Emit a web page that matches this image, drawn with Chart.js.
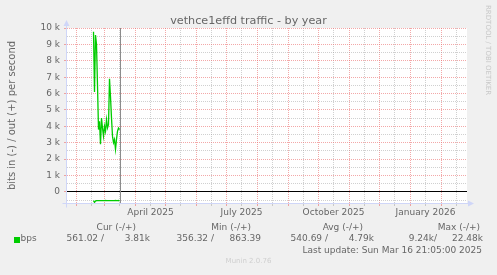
<!DOCTYPE html>
<html>
<head>
<meta charset="utf-8">
<script src="https://cdn.jsdelivr.net/npm/chart.js@4/dist/chart.umd.min.js"></script>
<style>
  html, body { margin: 0; padding: 0; background: #f0f0f0; }
  #wrap { position: relative; width: 497px; height: 275px; font-family: 'DejaVu Sans', sans-serif; color: #666; }
  #wrap canvas { position: absolute; left: 0; top: 0; }
  .t { position: absolute; white-space: pre; font-size: 9px; line-height: 11px; }
  .hd { top: 221.5px; }
  .val { top: 233px; }
</style>
</head>
<body>
<div id="wrap">
  <canvas id="chart" width="497" height="275"></canvas>
  <div class="t" style="left:0;width:497px;text-align:center;top:14px;font-size:11.2px;line-height:13px">vethce1effd traffic - by year</div>
  <div class="t" style="left:483px;top:5px;font-size:7px;line-height:9px;color:#c8c8c8;writing-mode:vertical-rl">RRDTOOL / TOBI OETIKER</div>

  <div class="t hd" style="right:361px">Cur (-/+)</div>
  <div class="t hd" style="right:246px">Min (-/+)</div>
  <div class="t hd" style="right:134px">Avg (-/+)</div>
  <div class="t hd" style="right:17px">Max (-/+)</div>

  <div style="position:absolute;left:14px;top:237px;width:5.5px;height:5.5px;background:#00cc00"></div>
  <div class="t val" style="left:20.5px">bps</div>
  <div class="t val" style="right:393px">561.02 /</div>
  <div class="t val" style="right:347px">3.81k</div>
  <div class="t val" style="right:283px">356.32 /</div>
  <div class="t val" style="right:236px">863.39</div>
  <div class="t val" style="right:169px">540.69 /</div>
  <div class="t val" style="right:123px">4.79k</div>
  <div class="t val" style="right:60px">9.24k/</div>
  <div class="t val" style="right:14px">22.48k</div>

  <div class="t" style="right:15px;top:244.7px">Last update: Sun Mar 16 21:05:00 2025</div>
  <div class="t" style="left:0;width:497px;text-align:center;top:257px;font-size:7px;line-height:9px;color:#cfcfcf">Munin 2.0.76</div>
</div>
<script>
// x values are days counted from 2025-01-01
const xMin = 21.5;
const xMax = 421.5;
const yMin = -680;
const yMax = 10000;

const days = [48, 49, 50, 51, 52, 53, 54, 55, 56, 57, 58, 59, 60, 61, 62, 63, 64, 65, 66, 67, 68, 69, 70, 71, 72, 73, 74];
// out traffic (+), bits per second
const outBps = [9770, 6100, 9570, 9000, 6500, 3800, 4300, 2900, 4500, 3900, 3400, 4000, 3700, 4400, 3900, 4100, 6900, 5800, 4500, 3400, 3000, 3200, 2600, 3200, 3700, 3900, 3800];
// in traffic (-), drawn below zero
const inBps = [-540, -640, -560, -540, -530, -530, -540, -530, -530, -540, -530, -530, -520, -530, -540, -530, -530, -540, -530, -530, -540, -530, -520, -530, -540, -530, -560];

const lastUpdateDay = 74.88;

// first day of each month, Feb 2025 .. Feb 2026 (major grid)
const monthStarts = [31, 59, 90, 120, 151, 181, 212, 243, 273, 304, 334, 365, 396];
// mid-month lines (minor grid)
const midMonths = [46, 74, 105, 135, 166, 196, 227, 258, 288, 319, 349, 380, 411];
const xTickDays = [105, 196, 288, 380];
const xTickLabels = ['April 2025', 'July 2025', 'October 2025', 'January 2026'];

// y grid: labelled every 1 k, minor line every 500
const yMajor = [0, 1000, 2000, 3000, 4000, 5000, 6000, 7000, 8000, 9000, 10000];
const yTickLabels = ['0', '1 k', '2 k', '3 k', '4 k', '5 k', '6 k', '7 k', '8 k', '9 k', '10 k'];
const yMinor = [-500, 500, 1500, 2500, 3500, 4500, 5500, 6500, 7500, 8500, 9500];

const RED = 'rgba(235, 110, 110, 0.6)';
const GREY = 'rgba(150, 150, 150, 0.45)';
const AXIS = '#cfd6f8';
const GREEN = '#00cc00';

Chart.defaults.font.family = "'DejaVu Sans', sans-serif";
Chart.defaults.font.size = 9;
Chart.defaults.color = '#666666';

const muninFrame = {
    id: 'muninFrame',
    beforeDraw(chart) {
        const { ctx, chartArea: a } = chart;
        ctx.save();
        ctx.fillStyle = '#f0f0f0';
        ctx.fillRect(0, 0, chart.width, chart.height);
        ctx.fillStyle = '#ffffff';
        ctx.fillRect(a.left, a.top, a.right - a.left, a.bottom - a.top);
        ctx.restore();
    },
    afterDraw(chart) {
        const { ctx, chartArea: a, scales } = chart;
        const nowX = Math.round(scales.x.getPixelForValue(lastUpdateDay)) + 0.5;
        ctx.save();
        // vertical line at last update
        ctx.strokeStyle = '#8c8c8c';
        ctx.lineWidth = 1;
        ctx.beginPath();
        ctx.moveTo(nowX, a.top);
        ctx.lineTo(nowX, a.bottom);
        ctx.stroke();

        // axes with arrows
        const ax = Math.round(a.left) - 0.5;
        const ay = Math.round(a.bottom) + 0.5;
        ctx.strokeStyle = AXIS;
        ctx.fillStyle = AXIS;
        ctx.beginPath();
        ctx.moveTo(ax, ay + 4);
        ctx.lineTo(ax, a.top - 2);
        ctx.moveTo(ax - 4, ay);
        ctx.lineTo(a.right + 2, ay);
        ctx.stroke();
        ctx.beginPath();
        ctx.moveTo(ax, a.top - 8);
        ctx.lineTo(ax - 3, a.top - 2);
        ctx.lineTo(ax + 3, a.top - 2);
        ctx.closePath();
        ctx.fill();
        ctx.beginPath();
        ctx.moveTo(a.right + 7, ay);
        ctx.lineTo(a.right + 1, ay - 3);
        ctx.lineTo(a.right + 1, ay + 3);
        ctx.closePath();
        ctx.fill();
        ctx.restore();
    }
};

const lineStyle = { borderColor: GREEN, borderWidth: 1.3, pointRadius: 0, tension: 0, fill: false };

new Chart(document.getElementById('chart'), {
    type: 'line',
    data: {
        datasets: [
            { label: 'out', data: days.map((d, i) => ({ x: d, y: outBps[i] })), ...lineStyle },
            { label: 'in', data: days.map((d, i) => ({ x: d, y: inBps[i] })), ...lineStyle }
        ]
    },
    options: {
        responsive: false,
        animation: false,
        events: [],
        layout: { padding: { left: 0, top: 28, right: 30, bottom: 0 } },
        plugins: { legend: { display: false }, tooltip: { enabled: false } },
        scales: {
            x: {
                type: 'linear',
                min: xMin,
                max: xMax,
                afterBuildTicks: (scale) => {
                    scale.ticks = [...monthStarts, ...midMonths]
                        .filter(d => d > xMin && d < xMax)
                        .sort((a, b) => a - b)
                        .map(d => ({ value: d }));
                },
                afterFit: (scale) => { scale.height = 72; },
                ticks: {
                    autoSkip: false,
                    maxRotation: 0,
                    padding: 1,
                    color: '#666666',
                    callback: (v) => {
                        const i = xTickDays.indexOf(v);
                        return i >= 0 ? xTickLabels[i] : '';
                    }
                },
                grid: {
                    lineWidth: 1,
                    tickLength: 3,
                    color: (c) => monthStarts.includes(c.tick.value) ? RED : GREY,
                    tickColor: (c) => monthStarts.includes(c.tick.value) ? RED : GREY
                },
                border: { display: false, dash: [1, 1] }
            },
            y: {
                min: yMin,
                max: yMax,
                afterBuildTicks: (scale) => {
                    scale.ticks = [...yMinor, ...yMajor]
                        .sort((a, b) => a - b)
                        .map(v => ({ value: v }));
                },
                afterFit: (scale) => { scale.width = 67; },
                ticks: {
                    autoSkip: false,
                    padding: 4,
                    color: '#666666',
                    callback: (v) => {
                        const i = yMajor.indexOf(v);
                        return i >= 0 ? yTickLabels[i] : '';
                    }
                },
                grid: {
                    lineWidth: 1,
                    tickLength: 3,
                    color: (c) => c.tick.value === 0 ? '#000000' : (yMajor.includes(c.tick.value) ? RED : GREY),
                    tickColor: (c) => yMajor.includes(c.tick.value) ? RED : 'rgba(0,0,0,0)'
                },
                border: { display: false, dash: (c) => c.tick && c.tick.value === 0 ? [] : [1, 1] },
                title: {
                    display: true,
                    text: 'bits in (-) / out (+) per second',
                    color: '#666666',
                    font: { size: 10 },
                    padding: { top: 6, bottom: 0 }
                }
            }
        }
    },
    plugins: [muninFrame]
});
</script>
</body>
</html>
